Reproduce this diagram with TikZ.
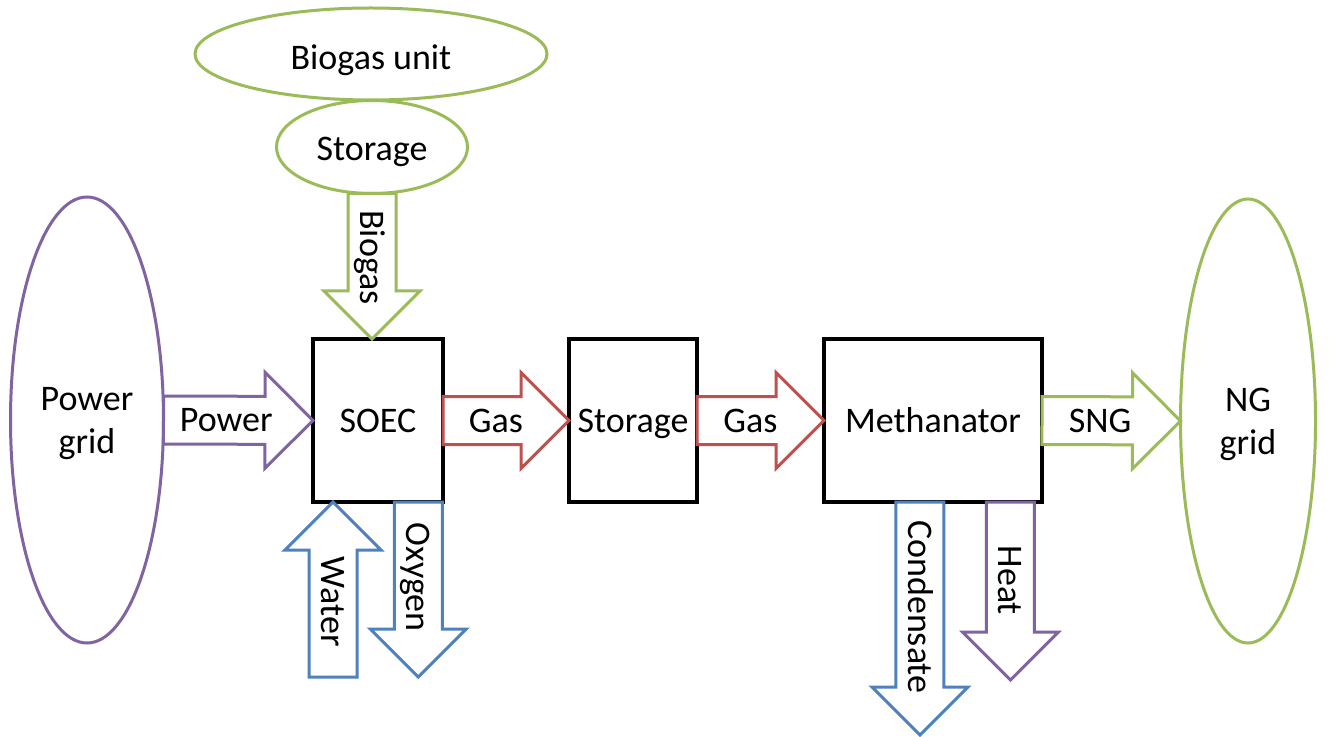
\documentclass[tikz,border=0pt]{standalone}
\usepackage{fontspec}
\setmainfont{Carlito}
\usetikzlibrary{shapes.geometric,calc}
\definecolor{cpurple}{HTML}{8064A2}
\definecolor{cred}{HTML}{C0504D}
\definecolor{cgreen}{HTML}{9BBB59}
\definecolor{cblue}{HTML}{4F81BD}
\tikzset{
  every node/.style={font=\fontsize{18}{21.5}\selectfont, inner sep=0pt, outer sep=0pt},
  capline/.style={text height=11.6pt, text depth=0pt},
  unit/.style={capline, draw=black, line width=2pt, minimum height=81.5pt},
  site/.style={ellipse, line width=1.5pt, align=center},
  flow/.style={line width=1.5pt, fill=white, line join=miter},
}
% block arrow: colour, from, to, label, label rotation, label position
\newcommand\flowarrow[6]{%
  \coordinate (hb) at ($(#3)!24pt!(#2)$);
  \draw[flow, draw=#1] ($(#2)!12pt!90:(#3)$) -- ($(hb)!12pt!90:(#3)$)
    -- ($(hb)!24pt!90:(#3)$) -- (#3) -- ($(hb)!24pt!-90:(#3)$)
    -- ($(hb)!12pt!-90:(#3)$) -- ($(#2)!12pt!-90:(#3)$) -- cycle;
  \node[capline, rotate=#5] at ($(#2)!#6!(#3)$) {#4};
}
\begin{document}
\begin{tikzpicture}[x=0.5pt,y=-0.5pt]
\useasboundingbox (0,0) rectangle (1336,737);
\fill[white] (0,0) rectangle (1336,737);

% sources and sinks
\node[site, text depth=0pt, draw=cpurple, minimum width=76.5pt, minimum height=223pt] (pgrid) at (87,420) {Power\\grid};
\node[site, text depth=0pt, draw=cgreen, minimum width=67.5pt, minimum height=222pt] (nggrid) at (1248,421) {NG\\grid};
\node[site, text height=15.5pt, text depth=0pt, draw=cgreen, minimum width=176pt, minimum height=46pt] (bunit) at (371,54) {Biogas unit};
\node[site, text height=13.5pt, text depth=0pt, draw=cgreen, fill=white, minimum width=95.5pt, minimum height=46.5pt] (bstore) at (372,147) {Storage};

% process units
\node[unit, minimum width=65pt] (soec) at (378,420.5) {SOEC};
\node[unit, minimum width=64pt] (gstore) at (633,420.5) {Storage};
\node[unit, minimum width=109pt] (meth) at (933,420.5) {Methanator};

% main line
\flowarrow{cpurple}{pgrid.east}{soec.west}{Power}{0}{0.42}
\flowarrow{cred}{soec.east}{gstore.west}{Gas}{0}{0.42}
\flowarrow{cred}{gstore.east}{meth.west}{Gas}{0}{0.42}
\flowarrow{cgreen}{meth.east}{nggrid.west}{SNG}{0}{0.42}

% biogas feed
\coordinate (bdrop) at (bstore.south |- soec.north);
\flowarrow{cgreen}{bstore.south}{bdrop}{Biogas}{-90}{0.44}

% SOEC water in, oxygen out
\coordinate (wtip) at ($(soec.south west)!0.154!(soec.south east)$);
\coordinate (wsrc) at ($(wtip)+(0,175)$);
\flowarrow{cblue}{wsrc}{wtip}{Water}{-90}{0.43}
\coordinate (otop) at ($(soec.south west)!0.81!(soec.south east)$);
\coordinate (oend) at ($(otop)+(0,175)$);
\flowarrow{cblue}{otop}{oend}{Oxygen}{-90}{0.43}

% methanator outputs
\coordinate (ctop) at ($(meth.south west)!0.44!(meth.south east)$);
\coordinate (cend) at ($(ctop)+(0,233)$);
\flowarrow{cblue}{ctop}{cend}{Condensate}{-90}{0.45}
\coordinate (htop) at ($(meth.south west)!0.855!(meth.south east)$);
\coordinate (hend) at ($(htop)+(0,178)$);
\flowarrow{cpurple}{htop}{hend}{Heat}{-90}{0.44}
\end{tikzpicture}
\end{document}
